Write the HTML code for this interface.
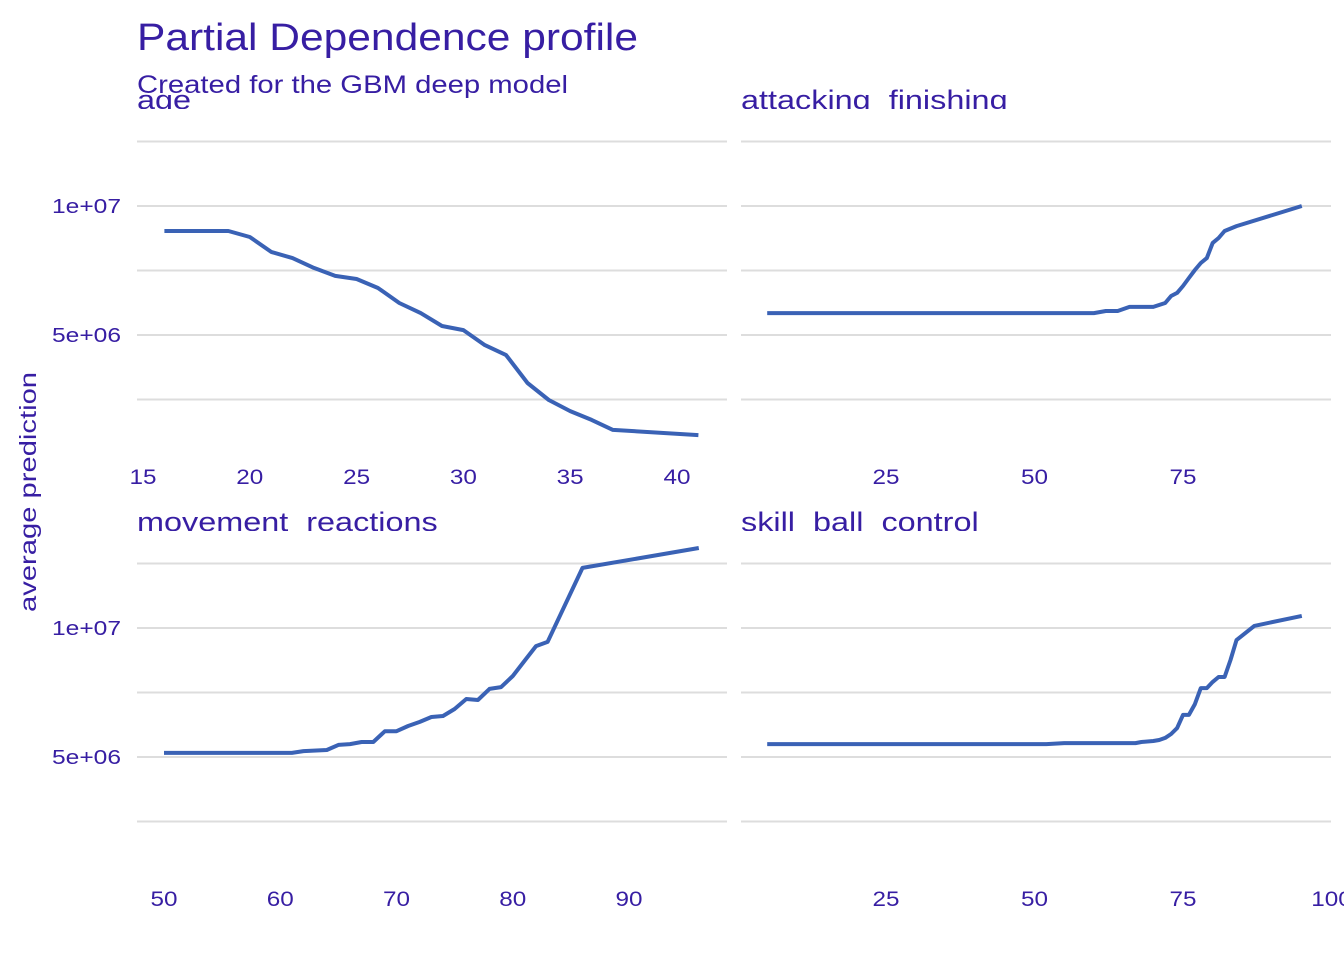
<!DOCTYPE html>
<html><head><meta charset="utf-8"><style>
html,body{margin:0;padding:0;background:#fff}
svg text{font-family:"Liberation Sans",Arial,sans-serif;fill:#371ea3;white-space:pre}
</style></head><body>
<svg id="chart" width="1344" height="960" xmlns="http://www.w3.org/2000/svg">
<text x="137" y="50" font-size="38" textLength="501" lengthAdjust="spacingAndGlyphs">Partial Dependence profile</text>
<text x="137" y="93" font-size="25" textLength="431" lengthAdjust="spacingAndGlyphs">Created for the GBM deep model</text>
<text transform="translate(36,492) rotate(-90)" text-anchor="middle" font-size="23" textLength="240" lengthAdjust="spacingAndGlyphs">average prediction</text>
<g id="panels"></g>
</svg>
<script>
const panelNames = ["age","attacking  finishing","movement  reactions","skill  ball  control"];
const ageX = [16,17,18,19,20,21,22,23,24,25,26,27,28,29,30,31,32,33,34,35,36,37,41];
const ageY = [9.03,9.03,9.03,9.03,8.80,8.22,7.98,7.60,7.29,7.17,6.82,6.24,5.85,5.35,5.19,4.61,4.22,3.14,2.48,2.05,1.71,1.32,1.12];
const finX = [5,60,62,64,66,70,72,73,74,75,76,77,78,79,80,81,82,84,95];
const finY = [5.85,5.85,5.93,5.93,6.09,6.09,6.24,6.51,6.63,6.90,7.21,7.52,7.79,7.98,8.57,8.76,9.03,9.22,10.0];
const reaX = [50,61,62,64,65,66,67,68,69,70,71,72,73,74,75,76,77,78,79,80,81,82,83,86,96];
const reaY = [5.16,5.16,5.23,5.27,5.47,5.50,5.58,5.58,6.0,6.0,6.2,6.36,6.55,6.59,6.86,7.25,7.21,7.64,7.71,8.14,8.72,9.30,9.46,12.33,13.1];
const sbcX = [5,52,55,67,68,70,71,72,73,74,75,76,77,78,79,80,81,82,83,84,87,95];
const sbcY = [5.5,5.5,5.54,5.54,5.58,5.62,5.66,5.74,5.89,6.12,6.63,6.63,7.05,7.67,7.67,7.91,8.10,8.10,8.76,9.53,10.08,10.47];
const xTicksLeftTop = [15,20,25,30,35,40];
const xTicksLeftBottom = [50,60,70,80,90];
const xTicksRightTop = [25,50,75];
const xTicksRightBottom = [25,50,75,100];
const yTicks = [5,10];
const yGrid = [2.5,5,7.5,10,12.5];

const NS="http://www.w3.org/2000/svg";
const g=document.getElementById('panels');
function el(t,a,p){const e=document.createElementNS(NS,t);for(const k in a)e.setAttribute(k,a[k]);(p||g).appendChild(e);return e;}
const panels=[
 {name:panelNames[0],x0:137,x1:727,base:335,dx:[15,143,40,677],xs:ageX,ys:ageY,ticks:xTicksLeftTop,ty:484,left:true},
 {name:panelNames[1],x0:741,x1:1331,base:335,dx:[25,886,75,1183],xs:finX,ys:finY,ticks:xTicksRightTop,ty:484,left:false},
 {name:panelNames[2],x0:137,x1:727,base:757,dx:[50,164,90,629],xs:reaX,ys:reaY,ticks:xTicksLeftBottom,ty:906,left:true},
 {name:panelNames[3],x0:741,x1:1331,base:757,dx:[25,886,75,1183],xs:sbcX,ys:sbcY,ticks:xTicksRightBottom,ty:906,left:false}
];
panels.forEach((p,i)=>{
 const pg=el('g',{});
 
 
 const xs=v=>p.dx[1]+(v-p.dx[0])*(p.dx[3]-p.dx[1])/(p.dx[2]-p.dx[0]);
 const ys=v=>p.base-(v-5)*25.8;
 yGrid.forEach(v=>{const l=el('line',{x1:p.x0,x2:p.x1,y1:ys(v),y2:ys(v),stroke:'#dddddd','stroke-width':2},pg);
  });
 if(p.left) yTicks.forEach(v=>{const t=el('text',{x:121,y:ys(v)+7,'text-anchor':'end','font-size':20,textLength:69,lengthAdjust:'spacingAndGlyphs'},pg);t.textContent=v===5?'5e+06':'1e+07';
  });
 p.ticks.forEach(v=>{const s=String(v);const t=el('text',{x:xs(v),y:p.ty,'text-anchor':'middle','font-size':21,textLength:13.5*s.length,lengthAdjust:'spacingAndGlyphs'},pg);t.textContent=s;
  });
 const clip=el('clipPath',{id:'c'+i},pg);el('rect',{x:p.x0,y:p.base-260,width:620,height:34},clip);
 const st=el('text',{x:p.x0,y:p.base-226,'font-size':27,'clip-path':'url(#c'+i+')'},pg);st.textContent=p.name;
 
 const w=st.getComputedTextLength();if(w>0){st.setAttribute('textLength',(w*1.2).toFixed(1));st.setAttribute('lengthAdjust','spacingAndGlyphs');}
 const d=p.xs.map((v,j)=>(j?'L':'M')+xs(v).toFixed(1)+','+ys(p.ys[j]).toFixed(1)).join('');
 const path=el('path',{d:d,fill:'none',stroke:'#3a62b5','stroke-width':4,'stroke-linejoin':'round'},pg);
 
});
</script>
</body></html>
